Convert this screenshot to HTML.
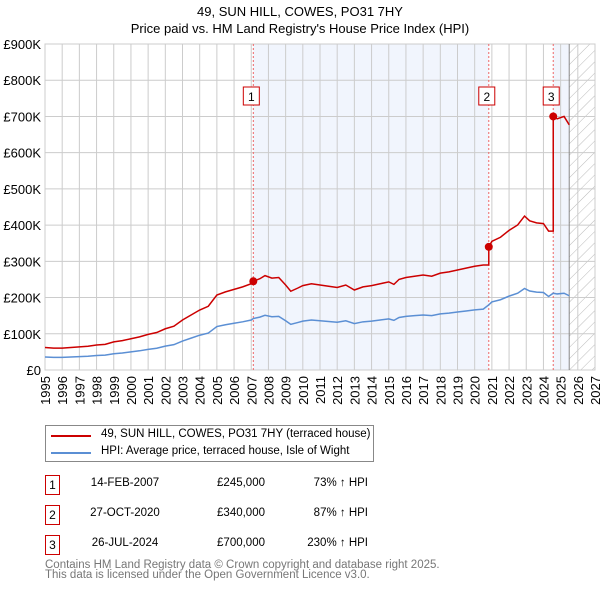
<!DOCTYPE html>
<html><head><meta charset="utf-8"><style>
body{margin:0;background:#fff;font-family:"Liberation Sans","DejaVu Sans",sans-serif;}
.t{position:absolute;font-size:12px;color:#000}
</style></head><body>
<div style="position:relative;width:600px;height:590px;overflow:hidden">
<div class="t" style="left:0;width:600px;top:3px;text-align:center;font-size:13px;line-height:17px">49, SUN HILL, COWES, PO31 7HY<br>Price paid vs. HM Land Registry's House Price Index (HPI)</div>
<svg id="c" width="600" height="420" style="position:absolute;left:0;top:0"></svg>
<div style="position:absolute;left:45px;top:425px;width:327px;height:35px;border:1px solid #888">
 <div style="position:absolute;left:5px;top:9px;width:40px;height:2px;background:#cc0000"></div>
 <div class="t" style="left:55px;top:2px;font-size:11.5px">49, SUN HILL, COWES, PO31 7HY (terraced house)</div>
 <div style="position:absolute;left:5px;top:26px;width:40px;height:2px;background:#5b8fd4"></div>
 <div class="t" style="left:55px;top:19px;font-size:11.5px">HPI: Average price, terraced house, Isle of Wight</div>
</div>
<div id="rows"></div>
<div class="t" style="left:45px;top:560px;font-size:11.5px;color:#777;line-height:10px">Contains HM Land Registry data © Crown copyright and database right 2025.<br>This data is licensed under the Open Government Licence v3.0.</div>
</div>
<script>
const years=[1995,1995.5,1996,1996.5,1997,1997.5,1998,1998.5,1999,1999.5,2000,2000.5,2001,2001.5,2002,2002.5,2003,2003.5,2004,2004.5,2005,2005.5,2006,2006.5,2007,2007.12,2007.5,2007.8,2008.2,2008.6,2009,2009.3,2009.7,2010,2010.5,2011,2011.5,2012,2012.5,2013,2013.5,2014,2014.5,2015,2015.3,2015.6,2016,2016.5,2017,2017.5,2018,2018.5,2019,2019.5,2020,2020.5,2020.82,2021,2021.5,2022,2022.5,2022.9,2023.2,2023.6,2024,2024.3,2024.57,2024.8,2025.2,2025.5];
const hpi=[36,35,35,36,37,38,40,41,45,47,50,53,57,60,66,70,80,88,96,102,120,125,129,133,138,142,146,151,147,148,136,126,131,135,138,136,134,132,136,128,133,135,138,141,137,145,148,150,152,150,155,157,160,163,166,168,180,188,194,204,212,225,218,215,214,203,212,210,212,205];
const saleYears=[2007.12,2020.82,2024.57];
const salePrices=[245,340,700];
const saleLabels=['1','2','3'];
const saleDates=['14-FEB-2007','27-OCT-2020','26-JUL-2024'];
const salePriceText=['£245,000','£340,000','£700,000'];
const saleHpiText=['73% ↑ HPI','87% ↑ HPI','230% ↑ HPI'];
const yTicks=[0,100,200,300,400,500,600,700,800,900];
const xTicks=[];for(let y=1995;y<=2027;y++)xTicks.push(y);

const L=45,R=595,T=44,B=370,X0=1995,X1=2027,YMAX=900;
const x=v=>L+(v-X0)/(X1-X0)*(R-L);
const y=v=>B-v/YMAX*(B-T);
const svg=document.getElementById('c');const NS='http://www.w3.org/2000/svg';
function mk(tag,attrs,name){const e=document.createElementNS(NS,tag);for(const k in attrs)e.setAttribute(k,attrs[k]);


svg.appendChild(e);return e;}
const dataEnd=years[years.length-1];
mk('rect',{x:x(saleYears[0]),y:T,width:x(saleYears[1])-x(saleYears[0]),height:B-T,fill:'#eef3fc',opacity:0.8},'ownership-shade-1');
mk('rect',{x:x(saleYears[2]),y:T,width:x(dataEnd)-x(saleYears[2]),height:B-T,fill:'#eef3fc',opacity:0.8},'ownership-shade-3');
const defs=mk('defs',{},'defs');
defs.innerHTML='<pattern id="h" width="8" height="8" patternUnits="userSpaceOnUse" patternTransform="rotate(45)"><line x1="0" y1="0" x2="0" y2="8" stroke="#bbb" stroke-width="1"/></pattern>';
mk('rect',{x:x(dataEnd),y:T,width:R-x(dataEnd),height:B-T,fill:'url(#h)'},'future-hatch');
yTicks.forEach(v=>{mk('line',{x1:L,x2:R,y1:y(v),y2:y(v),stroke:'#ccc'},'y-gridline');
const t=mk('text',{x:L-4,y:y(v)+5,'text-anchor':'end','font-size':13,fill:'#000'},'y-tick-label');t.textContent=v?'£'+v+'K':'£0';});
xTicks.forEach(v=>{mk('line',{x1:x(v),x2:x(v),y1:T,y2:B,stroke:'#ccc'},'x-gridline');
const t=mk('text',{x:0,y:0,'text-anchor':'end','font-size':13,fill:'#000',transform:`translate(${x(v)+5},${B+6}) rotate(-90)`},'x-tick-label');t.textContent=v;});
mk('rect',{x:L,y:T,width:R-L,height:B-T,fill:'none',stroke:'#ccc'},'plot-border');
mk('line',{x1:x(dataEnd),x2:x(dataEnd),y1:T,y2:B,stroke:'#888'},'data-end-line');
saleYears.forEach(s=>mk('line',{x1:x(s),x2:x(s),y1:T,y2:B,stroke:'#e66','stroke-dasharray':'2,2'},'sale-marker-line'));
mk('polyline',{points:years.map((yr,i)=>x(yr)+','+y(hpi[i])).join(' '),fill:'none',stroke:'#5b8fd4','stroke-width':1.5},'hpi-line');
function ratioAt(yr){let k=0;for(let j=0;j<saleYears.length;j++)if(yr>=saleYears[j]-1e-9)k=j;const i=years.findIndex(v=>Math.abs(v-saleYears[k])<1e-6);return salePrices[k]/hpi[i];}
const pts=[];years.forEach((yr,i)=>{
 const j=saleYears.findIndex(s=>Math.abs(s-yr)<1e-6);
 if(j>0){const pi=i-1;pts.push(x(yr)+','+y(hpi[pi]*ratioAt(years[pi])));}
 pts.push(x(yr)+','+y(hpi[i]*ratioAt(yr)));});
mk('polyline',{points:pts.join(' '),fill:'none',stroke:'#cc0000','stroke-width':1.5},'property-price-line');
saleYears.forEach((s,i)=>{mk('circle',{cx:x(s),cy:y(salePrices[i]),r:4,fill:'#cc0000'},'sale-point-'+(i+1));
mk('rect',{x:x(s)-10,y:87,width:16,height:18,fill:'#fff',stroke:'#cc0000'},'sale-label-box-'+(i+1));
const t=mk('text',{x:x(s)-2,y:101,'text-anchor':'middle','font-size':12},'sale-label-'+(i+1));t.textContent=saleLabels[i];});
const rows=document.getElementById('rows');
saleLabels.forEach((l,i)=>{const top=475+i*30;
const d=document.createElement('div');d.style.cssText=`position:absolute;left:45px;top:${top}px;width:13px;height:18px;border:1px solid #cc0000;font-size:12px;text-align:center;line-height:18px`;d.textContent=l;


rows.appendChild(d);
[[90,saleDates[i],'left',70],[190,salePriceText[i],'right',75],[290,saleHpiText[i],'right',78]].forEach(([lx,tx,al,w])=>{
const e=document.createElement('div');e.className='t';e.style.cssText=`left:${lx}px;top:${top+2}px;width:${w}px;text-align:${al==='left'?'center':'right'};font-size:11.5px`;e.textContent=tx;


rows.appendChild(e);});});
</script>
</body></html>
